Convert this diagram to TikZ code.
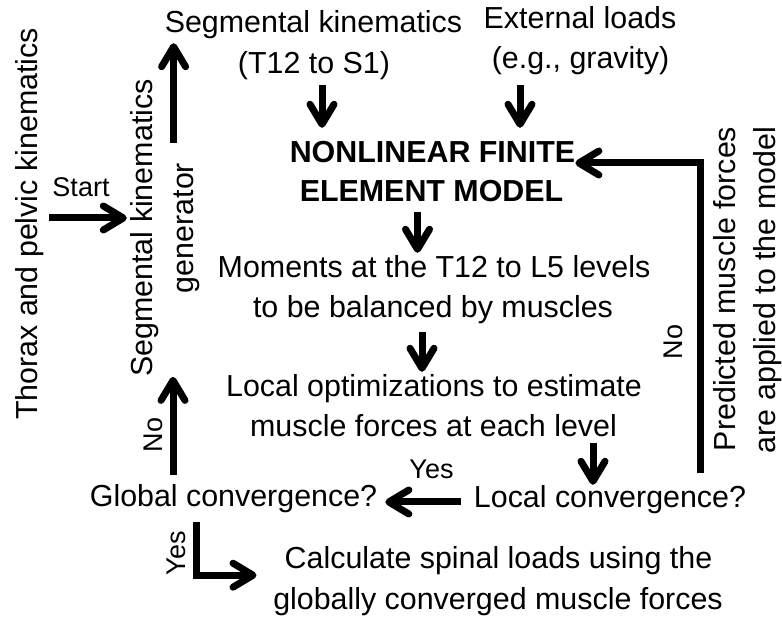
\documentclass[tikz,border=0pt]{standalone}
\usepackage{fontspec}
\setmainfont{Liberation Sans}
\usetikzlibrary{arrows.meta}
\begin{document}
\begin{tikzpicture}[x=1pt,y=1pt,
  txt/.style={inner sep=0pt, anchor=base, text height=22pt, text depth=6pt,
    font=\fontsize{30.4}{41}\selectfont},
  boldtxt/.style={txt, font=\fontsize{30.4}{41}\selectfont\bfseries},
  lbl/.style={inner sep=0pt, anchor=base, text height=19.5pt, text depth=0pt,
    font=\fontsize{27}{32}\selectfont},
  upright/.style={rotate=90},
  flow/.style={line width=7pt, line join=miter,
    -{Straight Barb[length=20pt,width=24pt,round]}},
]
\useasboundingbox (0,0) rectangle (782,621);

% inputs at the top
\node[txt] (segk1) at (313.5,588) {Segmental kinematics};
\node[txt] (segk2) at (314,547) {(T12 to S1)};
\node[txt] (ext1) at (580,592) {External loads};
\node[txt] (ext2) at (580.5,552) {(e.g., gravity)};

% model and the steps below it
\node[boldtxt] (fem1) at (432.5,458) {NONLINEAR FINITE};
\node[boldtxt] (fem2) at (431.5,419) {ELEMENT MODEL};
\node[txt] (mom1) at (434,343) {Moments at the T12 to L5 levels};
\node[txt] (mom2) at (433,303) {to be balanced by muscles};
\node[txt] (opt1) at (434,224) {Local optimizations to estimate};
\node[txt] (opt2) at (433.5,184) {muscle forces at each level};
\node[txt] (glob) at (233.5,114) {Global convergence?};
\node[txt] (loc) at (610,113) {Local convergence?};
\node[txt] (calc1) at (498.5,52) {Calculate spinal loads using the};
\node[txt] (calc2) at (498,11) {globally converged muscle forces};

% vertical texts
\node[txt, upright] (thorax) at (37,397) {Thorax and pelvic kinematics};
\node[txt, upright] (sg1) at (152,393) {Segmental kinematics};
\node[txt, upright] (sg2) at (193,393) {generator};
\node[txt, upright] (pr1) at (735,332) {Predicted muscle forces};
\node[txt, upright] (pr2) at (775,331) {are applied to the model};

% branch labels
\node[lbl] (start) at (81,424) {Start};
\node[lbl] (yes1) at (431.5,142) {Yes};
\node[lbl, upright] (no1) at (162,186) {No};
\node[lbl, upright] (no2) at (682,279) {No};
\node[lbl, upright] (yes2) at (185,68) {Yes};

% connectors
\draw[flow] ([xshift=8pt,yshift=-5pt]segk2.south)
  -- ([xshift=8pt,yshift=13pt]segk2.south |- fem1.north);
\draw[flow] ([xshift=-60.5pt,yshift=-10pt]ext2.south)
  -- ([xshift=-60.5pt,yshift=13pt]ext2.south |- fem1.north);
\draw[flow] ([xshift=-14pt,yshift=-4pt]fem2.south)
  -- ([xshift=-14pt,yshift=3pt]fem2.south |- mom1.north);
\draw[flow] ([xshift=-11pt,yshift=-8pt]mom2.south)
  -- ([xshift=-11pt,yshift=3pt]mom2.south |- opt1.north);
\draw[flow] ([xshift=-17pt]loc.north |- opt2.south)
  -- ([xshift=-17pt,yshift=1pt]loc.north);
\draw[flow] ([xshift=-13pt,yshift=-2pt]loc.west)
  -- ([xshift=8pt,yshift=-3pt]glob.east);
\draw[flow] ([xshift=90pt,yshift=13pt]loc.north) |- (fem1.base east);
\draw[flow] ([xshift=-60.5pt,yshift=10pt]glob.north)
  -- ([xshift=-60.5pt]glob.north |- sg1.west);
\draw[flow] ([xshift=9pt,yshift=20pt]segk1.south west |- sg2.east)
  -- ([xshift=9pt,yshift=-4pt]segk1.south west);
\draw[flow] ([xshift=6pt,yshift=6pt]thorax.south)
  -- ([xshift=-3pt,yshift=6pt]thorax.south -| sg1.north);
\draw[flow] ([xshift=-37.5pt,yshift=-9pt]glob.south)
  |- ([xshift=-28pt]calc1.south west);
\end{tikzpicture}
\end{document}
